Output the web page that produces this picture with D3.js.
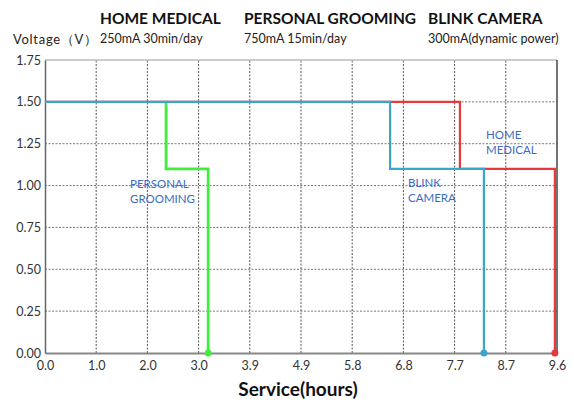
<!DOCTYPE html>
<html>
<head>
<meta charset="utf-8">
<script src="https://cdn.jsdelivr.net/npm/d3@7"></script>
<style>
  body { margin: 0; background: #fff; }
  text { font-family: Lato, "Open Sans", sans-serif; }
</style>
</head>
<body>
<div id="graph"></div>
<script>
"use strict";

// x axis categories (hours) - evenly spaced, labels as printed
var xTickValues = [0, 0.96, 1.92, 2.88, 3.84, 4.8, 5.76, 6.72, 7.68, 8.64, 9.6];
var xTickLabels = ["0.0", "1.0", "2.0", "3.0", "3.9", "4.9", "5.8", "6.8", "7.7", "8.7", "9.6"];
var yTickValues = [0, 0.25, 0.5, 0.75, 1.0, 1.25, 1.5, 1.75];

// series: [hours, volts] (the shared 1.5 V start is drawn by the camera line on top)
var grooming = [[2.27, 1.5], [2.27, 1.10], [3.06, 1.10], [3.06, 0]];
var medical  = [[0, 1.5], [7.78, 1.5], [7.78, 1.10], [9.56, 1.10], [9.56, 0]];
var camera   = [[0, 1.5], [6.47, 1.5], [6.47, 1.10], [8.23, 1.10], [8.23, 0]];

var headers = [
    { title: "HOME MEDICAL", sub: "250mA  30min/day", x: 100 },
    { title: "PERSONAL  GROOMING", sub: "750mA  15min/day", x: 244 },
    { title: "BLINK CAMERA", sub: "300mA(dynamic power)", x: 428 }
];

var width = 574, height = 403;
var margin = { left: 45, right: 17, top: 60, bottom: 50 };

var svg = d3.select("#graph")
    .append("svg")
    .attr("width", width)
    .attr("height", height);

var x = d3.scaleLinear().domain([0, 9.6]).range([margin.left, width - margin.right]);
var y = d3.scaleLinear().domain([0, 1.75]).range([height - margin.bottom, margin.top]);

// grid
svg.append("g").selectAll("line")
    .data(yTickValues.slice(1, -1))
    .enter().append("line")
    .attr("x1", x(0)).attr("x2", x(9.6))
    .attr("y1", function (d) { return y(d); })
    .attr("y2", function (d) { return y(d); })
    .attr("stroke", "#777")
    .attr("stroke-width", 1)
    .attr("stroke-dasharray", "2,1.5");

svg.append("g").selectAll("line")
    .data(xTickValues.slice(1, -1))
    .enter().append("line")
    .attr("x1", function (d) { return x(d); })
    .attr("x2", function (d) { return x(d); })
    .attr("y1", y(0)).attr("y2", y(1.75))
    .attr("stroke", "#555")
    .attr("stroke-width", 1)
    .attr("stroke-dasharray", "2,1.5");

// top and right border
svg.append("line")
    .attr("x1", x(0)).attr("x2", x(9.6))
    .attr("y1", y(1.75)).attr("y2", y(1.75))
    .attr("stroke", "#bbb").attr("stroke-width", 1.5);
svg.append("line")
    .attr("x1", x(9.6)).attr("x2", x(9.6))
    .attr("y1", y(1.75)).attr("y2", y(0))
    .attr("stroke", "#444").attr("stroke-width", 1.5);

// axes
var xAxis = d3.axisBottom(x)
    .tickValues(xTickValues)
    .tickFormat(function (d, i) { return xTickLabels[i]; })
    .tickSize(0)
    .tickPadding(8);
var gx = svg.append("g")
    .attr("transform", "translate(0," + y(0) + ")")
    .call(xAxis);
gx.select(".domain").attr("stroke", "#888").attr("stroke-width", 2);
gx.selectAll("text").attr("font-size", 12.5).attr("fill", "#333")
    .style("font-family", "Lato, sans-serif");

var yAxis = d3.axisLeft(y)
    .tickValues(yTickValues)
    .tickFormat(d3.format(".2f"))
    .tickSize(0)
    .tickPadding(4);
var gy = svg.append("g")
    .attr("transform", "translate(" + x(0) + ",0)")
    .call(yAxis);
gy.select(".domain").attr("stroke", "#666").attr("stroke-width", 1.5);
gy.selectAll("text").attr("font-size", 12.5).attr("fill", "#333")
    .style("font-family", "Lato, sans-serif");

// series
var line = d3.line()
    .x(function (d) { return x(d[0]); })
    .y(function (d) { return y(d[1]); });

var series = [
    { data: grooming, color: "#3ef03a", w: 2.8 },
    { data: medical, color: "#e8383c", w: 2.2 },
    { data: camera, color: "#3aa6cc", w: 2.2 }
];

series.forEach(function (s) {
    svg.append("path")
        .datum(s.data)
        .attr("d", line)
        .attr("fill", "none")
        .attr("stroke", s.color)
        .attr("stroke-width", s.w);
    var end = s.data[s.data.length - 1];
    svg.append("circle")
        .attr("cx", x(end[0]))
        .attr("cy", y(end[1]))
        .attr("r", 3.5)
        .attr("fill", s.color);
});

// in-plot labels
var labels = [
    { lines: ["PERSONAL", "GROOMING"], x: 130, y: 188 },
    { lines: ["BLINK", "CAMERA"], x: 408, y: 187 },
    { lines: ["HOME", "MEDICAL"], x: 486, y: 139 }
];
labels.forEach(function (l) {
    var t = svg.append("text")
        .attr("x", l.x).attr("y", l.y)
        .attr("font-size", 11.5)
        .attr("fill", "#3a6cc4");
    l.lines.forEach(function (s, i) {
        t.append("tspan").attr("x", l.x).attr("dy", i === 0 ? 0 : 14.5).text(s);
    });
});

// headers
headers.forEach(function (h) {
    svg.append("text")
        .attr("x", h.x).attr("y", 24)
        .attr("font-size", 15.5)
        .attr("font-weight", "bold")
        .attr("fill", "#111")
        .text(h.title);
    svg.append("text")
        .attr("x", h.x).attr("y", 43)
        .attr("font-size", 12.5)
        .attr("fill", "#222")
        .text(h.sub);
});

svg.append("text")
    .attr("x", 13).attr("y", 44)
    .attr("font-size", 13)
    .attr("fill", "#222")
    .text("Voltage（V）")
    .attr("textLength", 84);

svg.append("text")
    .attr("x", 298).attr("y", 396)
    .attr("text-anchor", "middle")
    .attr("font-size", 19)
    .attr("font-weight", "bold")
    .attr("fill", "#111")
    .text("Service(hours)");
</script>
</body>
</html>
